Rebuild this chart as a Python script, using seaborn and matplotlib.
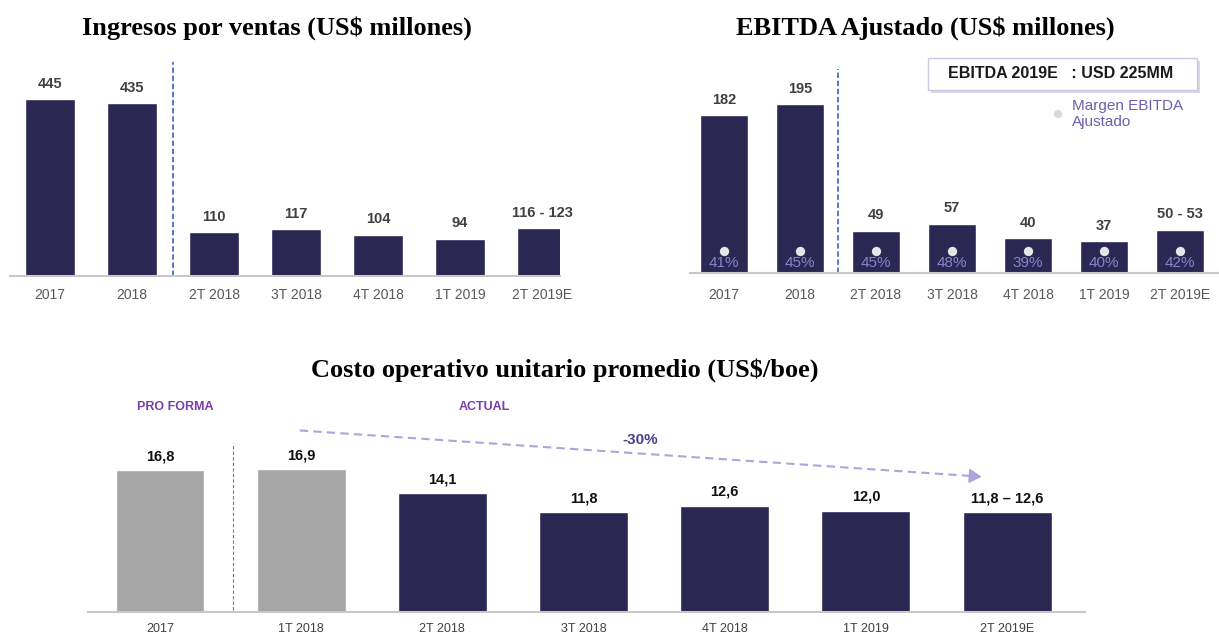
import numpy as np
import pandas as pd
import seaborn as sns
import matplotlib
matplotlib.use("Agg")
import matplotlib.pyplot as plt
from matplotlib.patches import Rectangle

# ── data ──────────────────────────────────────────────────────────────────────
ventas_cats = ["2017", "2018", "2T 2018", "3T 2018", "4T 2018", "1T 2019", "2T 2019E"]
ventas_vals = [445, 435, 110, 117, 104, 94, 119.5]
ventas_labels = ["445", "435", "110", "117", "104", "94", "116 - 123"]

ebitda_cats = ["2017", "2018", "2T 2018", "3T 2018", "4T 2018", "1T 2019", "2T 2019E"]
ebitda_vals = [182, 195, 49, 57, 40, 37, 50]
ebitda_labels = ["182", "195", "49", "57", "40", "37", "50 - 53"]
margen_labels = ["41%", "45%", "45%", "48%", "39%", "40%", "42%"]

costo_cats = ["2017", "1T 2018", "2T 2018", "3T 2018", "4T 2018", "1T 2019", "2T 2019E"]
costo_vals = [16.8, 16.9, 14.1, 11.8, 12.6, 12.0, 11.8]
costo_labels = ["16,8", "16,9", "14,1", "11,8", "12,6", "12,0", "11,8 \u2013 12,6"]
costo_tipo = ["pro forma", "pro forma", "actual", "actual", "actual", "actual", "actual"]

NAVY = "#2a2753"
GRAY = "#a6a6a6"
TICK = "#595959"

sns.set_theme(style="white")
plt.rcParams["font.family"] = ["Liberation Sans", "DejaVu Sans"]
SERIF = ["Liberation Serif", "DejaVu Serif"]
NARROW = ["Liberation Sans Narrow", "Liberation Sans"]

W, H = 1219, 635
fig = plt.figure(figsize=(W / 100, H / 100), dpi=100)


def px_axes(left, right, top, bottom):
    return fig.add_axes([left / W, 1 - bottom / H, (right - left) / W, (bottom - top) / H])


def style_axes(ax, tick_size, tick_family, tick_pad):
    sns.despine(ax=ax, left=True)
    ax.spines["bottom"].set_color("#c8c8c8")
    ax.spines["bottom"].set_linewidth(1.5)
    ax.set_yticks([])
    ax.set_xlabel("")
    ax.set_ylabel("")
    ax.tick_params(axis="x", length=0, pad=tick_pad, labelsize=tick_size, colors=TICK)
    for t in ax.get_xticklabels():
        t.set_family(tick_family)


# ── 1. Ingresos por ventas ─────────────────────────────────────────────────────
ax1 = px_axes(10, 560, 60, 276)
sns.barplot(x=ventas_cats, y=ventas_vals, color=NAVY, saturation=1, width=0.61, ax=ax1)
ax1.set_xlim(-0.49, 6.22)
ax1.set_ylim(0, 543)
style_axes(ax1, 10, ["Liberation Sans", "DejaVu Sans"], 9)
for i, (v, lab) in enumerate(zip(ventas_vals, ventas_labels)):
    ax1.annotate(lab, (i, v), xytext=(0, 6), textcoords="offset points",
                 ha="center", va="bottom", fontsize=10.5, fontweight="bold", color="#404040")
ax1.axvline(1.5, ymin=0, ymax=0.99, color="#4a6fc4", ls=(0, (3, 1.5)), lw=1.3)
fig.text(277 / W, 1 - 28 / H, "Ingresos por ventas (US$ millones)", ha="center", va="center",
         fontsize=19, fontweight="bold", family=SERIF, color="black")

# ── 2. EBITDA Ajustado ─────────────────────────────────────────────────────────
ax2 = px_axes(690, 1219, 60, 273)
sns.barplot(x=ebitda_cats, y=ebitda_vals, color=NAVY, saturation=1, width=0.63, ax=ax2)
ax2.set_xlim(-0.447, 6.513)
ax2.set_ylim(0, 246)
style_axes(ax2, 10, ["Liberation Sans", "DejaVu Sans"], 11)
for i, (v, lab, m) in enumerate(zip(ebitda_vals, ebitda_labels, margen_labels)):
    ax2.annotate(lab, (i, v), xytext=(0, 6), textcoords="offset points",
                 ha="center", va="bottom", fontsize=10.5, fontweight="bold", color="#404040")
    ax2.scatter(i, 25.4, s=45, color="#e6e6e6", zorder=3, linewidths=0)
    ax2.text(i, 11.5, m, ha="center", va="center", fontsize=11, color="#8585c8", zorder=3)
ax2.axvline(1.5, ymin=0, ymax=0.96, color="#4a6fc4", ls=(0, (3, 1.5)), lw=1.3)
fig.text(925 / W, 1 - 28 / H, "EBITDA Ajustado (US$ millones)", ha="center", va="center",
         fontsize=19, fontweight="bold", family=SERIF, color="black")

# legend box
fig.patches.append(Rectangle((931 / W, 1 - 93 / H), 269 / W, 32 / H, transform=fig.transFigure,
                             facecolor="#d9d9e3", edgecolor="none", zorder=4))
fig.patches.append(Rectangle((928 / W, 1 - 90 / H), 269 / W, 32 / H, transform=fig.transFigure,
                             facecolor="white", edgecolor="#c9c9e4", lw=1, zorder=5))
fig.text(1061 / W, 1 - 74 / H, "EBITDA 2019E   : USD 225MM", ha="center", va="center",
         fontsize=11.5, fontweight="bold", color="#1a1a1a", zorder=6)
fig.text(1057 / W, 1 - 115 / H, "\u25cf", ha="center", va="center", fontsize=14, color="#d9d9d9")
fig.text(1072 / W, 1 - 99 / H, "Margen EBITDA\nAjustado", ha="left", va="top",
         fontsize=11, color="#6a60b0", linespacing=1.15)

# ── 3. Costo operativo unitario ────────────────────────────────────────────────
ax3 = px_axes(88, 1085, 395, 612)
df3 = pd.DataFrame({"cat": costo_cats, "val": costo_vals, "tipo": costo_tipo})
sns.barplot(data=df3, x="cat", y="val", hue="tipo", palette={"pro forma": GRAY, "actual": NAVY},
            saturation=1, width=0.63, dodge=False, legend=False, ax=ax3)
ax3.set_xlim(-0.51, 6.552)
ax3.set_ylim(0, 25.7)
style_axes(ax3, 9, NARROW, 8)
for t in ax3.get_xticklabels():
    t.set_color("#404040")
for i, (v, lab) in enumerate(zip(costo_vals, costo_labels)):
    ax3.annotate(lab, (i, v), xytext=(0, 5), textcoords="offset points",
                 ha="center", va="bottom", fontsize=10.5, fontweight="bold", color="#111111",
                 family=NARROW)
ax3.plot([0.517, 0.517], [0.2, 20], color="#6a74a8", ls=(0, (3, 2)), lw=0.8)
ax3.text(0.106, 24.3, "PRO FORMA", ha="center", va="center", fontsize=9, fontweight="bold",
         color="#7a3ca8", family=NARROW)
ax3.text(2.3, 24.3, "ACTUAL", ha="center", va="center", fontsize=9, fontweight="bold",
         color="#7a3ca8", family=NARROW)
x0, y0, x1, y1 = 0.99, 21.5, 5.84, 16.0
ax3.plot([x0, x1 - 0.06], [y0, y1 + 0.07], color="#aaa6da", ls=(0, (4, 2.5)), lw=1.5)
ax3.annotate("", xy=(x1, y1), xytext=(x1 - 0.12, y1 + 0.136),
             arrowprops=dict(arrowstyle="-|>,head_length=0.6,head_width=0.35",
                             color="#aaa6da", lw=1.5))
ax3.text(3.4, 20.35, "-30%", ha="center", va="center", fontsize=11, fontweight="bold",
         color="#4b3f8c", family=NARROW)
fig.text(565 / W, 1 - 370 / H, "Costo operativo unitario promedio (US$/boe)", ha="center",
         va="center", fontsize=19, fontweight="bold", family=SERIF, color="black")

fig.savefig("out.png", dpi=100)
